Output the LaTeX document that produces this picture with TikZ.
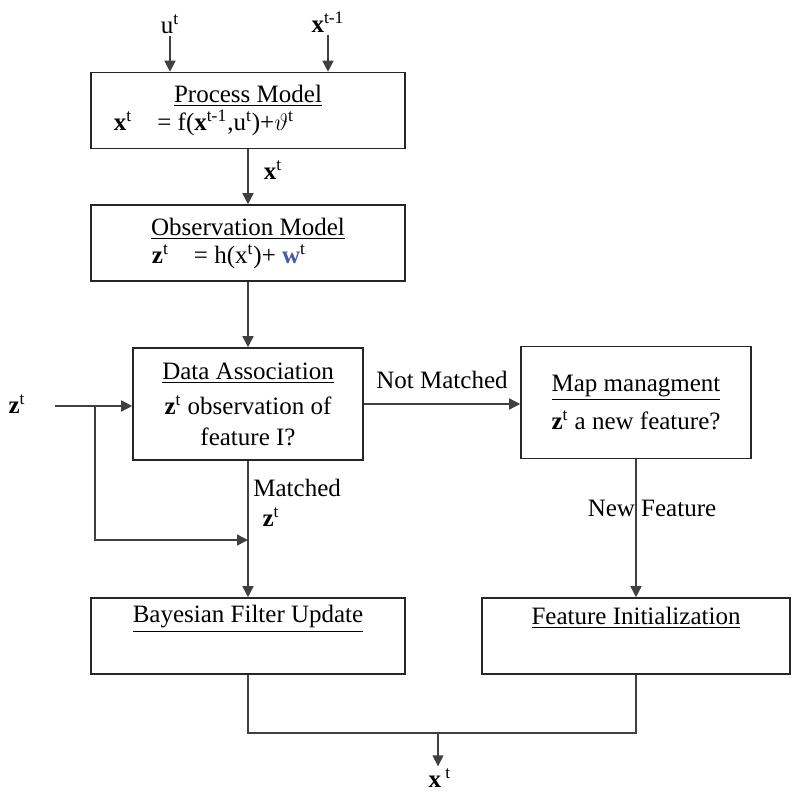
\documentclass[tikz,border=0pt]{standalone}
\usepackage{fontspec}
\setmainfont{Liberation Serif}
\usepackage{xcolor}
\usetikzlibrary{arrows.meta, calc, positioning}
\tikzset{
    block/.style={rectangle, draw=black!85, line width=0.8pt, align=center, inner sep=0pt},
    wideblock/.style={block, minimum width=157pt, minimum height=38pt},
    smallblock/.style={block, minimum width=115pt, minimum height=56pt},
    arrow/.style={-{Triangle[length=5.5pt, width=5.5pt]}, line width=0.75pt, draw=black!75},
    wire/.style={line width=0.75pt, draw=black!75},
    lbl/.style={inner sep=1pt, align=center},
}
\newcommand{\vb}[1]{\textbf{#1}}
\newcommand{\sps}[1]{\textsuperscript{#1}}
\definecolor{wblue}{RGB}{70,90,170}

\begin{document}
\begin{tikzpicture}[x=0.5pt, y=-0.5pt, font=\fontsize{12.5}{15}\selectfont]
    \useasboundingbox (0,0) rectangle (792,793);
    % boxes
    \node[wideblock] (proc) at (248,110.5) {\underline{Process Model}\\[-1pt]
        \vb{x}\sps{t}\quad = f(\vb{x}\sps{t-1},u\sps{t})+$\vartheta$\sps{t}\hspace*{44pt}};
    \node[wideblock] (obs) at (248,243) {\underline{Observation Model}\\[-1pt]
        \vb{z}\sps{t}\quad = h(x\sps{t})+ {\color{wblue}\vb{w}}\sps{t}\hspace*{19pt}};
    \node[smallblock] (assoc) at (248,404) {\underline{Data Association}\\[2.5pt]
        \vb{z}\sps{t} observation of\\[0.5pt] feature I?};
    \node[smallblock] (mapm) at (636,402.5) {\underline{Map managment}\\[4pt]
        \vb{z}\sps{t} a new feature?};
    \node[wideblock] (bayes) at (248,636) {\underline{Bayesian Filter Update}\\[1pt]\strut};
    \node[wideblock, minimum width=154pt] (feat) at (636,636) {\underline{Feature Initialization}\\[1pt]\strut};
    % inputs and labels
    \node[lbl] (ut) at (170,24) {u\sps{t}};
    \node[lbl] (xprev) at (328,22) {\vb{x}\sps{t-1}};
    \node[lbl] (zin) at (17,404) {\vb{z}\sps{t}};
    \node[lbl] (xout) at (440,778) {\vb{x}\,\sps{t}};
    \node[lbl] at (273,170) {\vb{x}\sps{t}};
    \node[lbl, anchor=west] at (251,488) {Matched};
    \node[lbl] at (271,517) {\vb{z}\sps{t}};
    \node[lbl] at (442,380) {Not Matched};
    \node[lbl] at (652,508) {New Feature};
    \coordinate (zstart) at (55,406);
    \coordinate (zsplit) at (95,406);
    \coordinate (zjoin) at (248,540);
    \coordinate (merge) at (438,733);
    % connectors
    \draw[arrow] (ut.south) -- (ut.south |- proc.north);
    \draw[arrow] (xprev.south) -- (xprev.south |- proc.north);
    \draw[arrow] (proc) -- (obs);
    \draw[arrow] (obs) -- (assoc);
    \draw[arrow] (zstart) -- (zstart -| assoc.west);
    \draw[arrow] (zsplit) |- (zjoin);
    \draw[arrow] (assoc) -- (bayes);
    \draw[arrow] (assoc.east) -- (assoc.east -| mapm.west);
    \draw[arrow] (mapm) -- (feat);
    \draw[wire] (bayes.south) |- (merge) -| (feat.south);
    \draw[arrow] (merge) -- (merge |- xout.north);
\end{tikzpicture}
\end{document}
